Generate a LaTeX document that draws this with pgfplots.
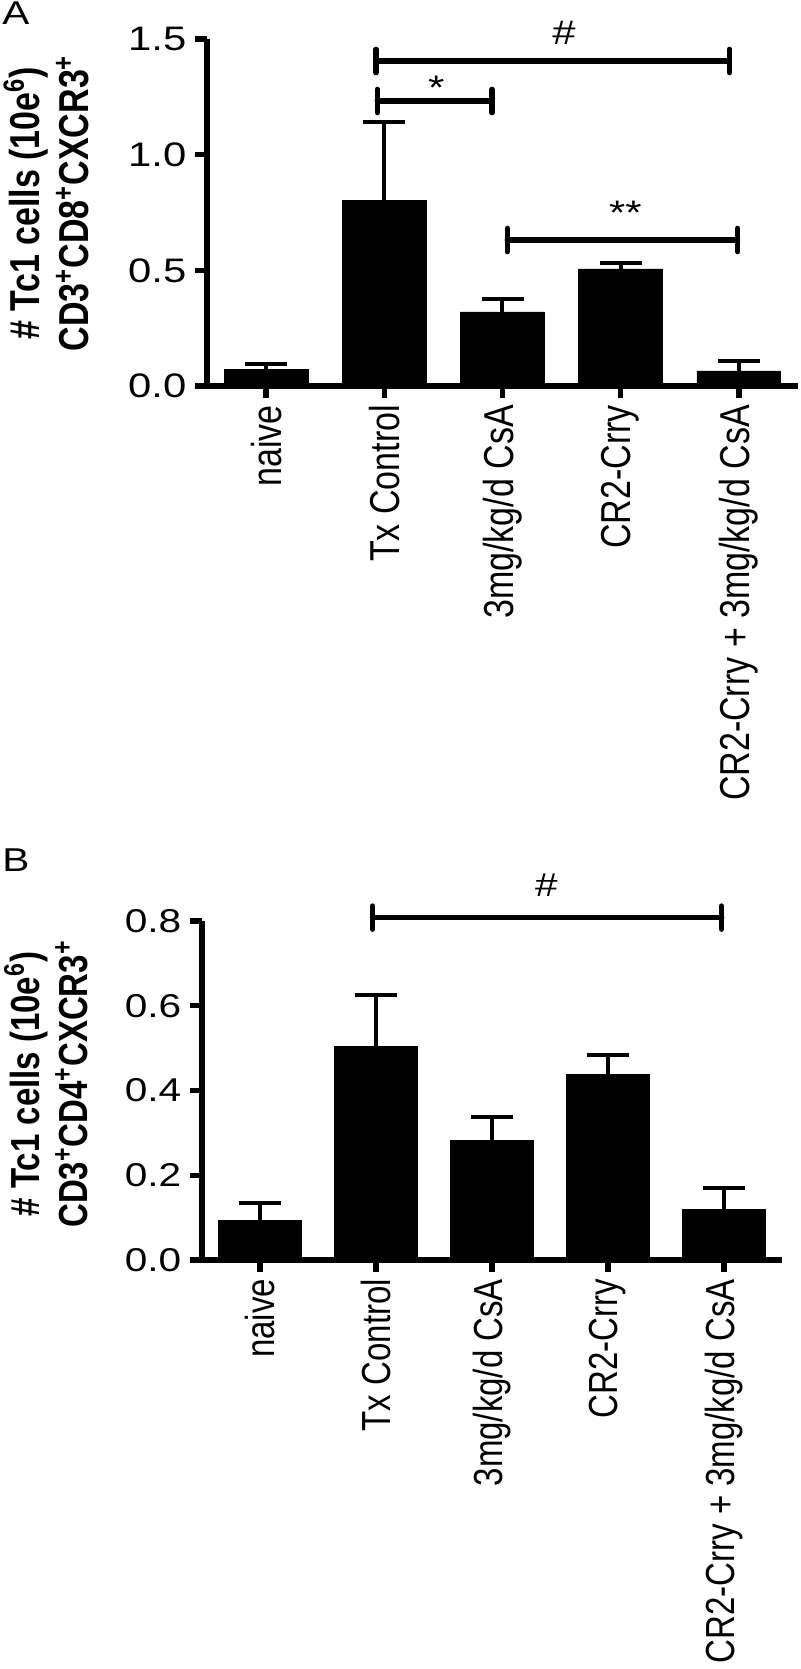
\documentclass[border=0pt]{standalone}
\usepackage{fontspec}
\setmainfont{Liberation Sans}
\usepackage{pgfplots}
\pgfplotsset{compat=1.18}

\newcommand{\labA}{\fontsize{17}{20}\selectfont}
\newcommand{\labB}{\fontsize{16.5}{19.5}\selectfont}

% significance bracket: x1, x2, y, text, text x, text baseline y
\newcommand{\sigbar}[6]{%
  \draw[line width=2.7pt, line cap=round] (axis cs:#1,#3) -- (axis cs:#2,#3);
  \draw[line width=2.7pt, line cap=round] ([yshift=-5.8pt]axis cs:#1,#3) -- ([yshift=5.8pt]axis cs:#1,#3);
  \draw[line width=2.7pt, line cap=round] ([yshift=-5.8pt]axis cs:#2,#3) -- ([yshift=5.8pt]axis cs:#2,#3);
  \node[xscale=1.23, anchor=base, inner sep=0pt] at (axis cs:#5,#6) {#4};
}

\pgfplotsset{
  barfig/.style={
    scale only axis,
    anchor=south west,
    clip=false,
    font=#1,
    axis x line*=bottom,
    axis y line*=left,
    axis line style={line width=2.7pt},
    tick align=outside,
    major tick length=6pt,
    tick style={line width=2.7pt, black},
    xmin=-0.5, xmax=4.5,
    ymin=0,
    xtick={0,...,4},
    xticklabels={naive, Tx Control, 3mg/kg/d CsA, CR2-Crry, CR2-Crry + 3mg/kg/d CsA},
    xticklabel style={font=#1, xscale=1.23, rotate=90, anchor=east},
    yticklabel style={font=#1, xscale=1.23, /pgf/number format/.cd, fixed, fixed zerofill, precision=1},
    /pgf/number format/assume math mode=true,
    ybar, bar width=0.71,
    every axis y label/.style={xscale=1.23, rotate=90, anchor=center, align=center, font=#1\bfseries},
  },
  errs/.style={
    fill=black, draw=black,
    error bars/.cd, y dir=plus, y explicit,
    error bar style={line width=2pt, black},
    error mark options={rotate=90, mark size=10.5pt, line width=2pt, black},
  },
}

\begin{document}
\begin{tikzpicture}
\useasboundingbox (0,0) rectangle (400pt,-834.5pt);

\node[anchor=south west, inner sep=0pt, font=\labB, xscale=1.23] at (1pt,-12.5pt) {A};
\node[anchor=south west, inner sep=0pt, font=\labB, xscale=1.23] at (1pt,-436pt) {B};

% panel A
\begin{axis}[barfig={\labA},
  at={(103.5pt,-193pt)}, width=295.5pt, height=173.5pt,
  ymax=1.5, ytick={0,0.5,1,1.5},
  ylabel={\# Tc1 cells (10e\textsuperscript{6})\\CD3\textsuperscript{+}CD8\textsuperscript{+}CXCR3\textsuperscript{+}},
  ylabel style={at={(axis description cs:-0.272,0.527)}},
]
\addplot[errs] coordinates {
  (0,0.073) +- (0,0.022)
  (1,0.804) +- (0,0.337)
  (2,0.320) +- (0,0.056)
  (3,0.506) +- (0,0.026)
  (4,0.065) +- (0,0.043)
};
\sigbar{0.93}{3.92}{1.405}{\labA\#}{2.52}{1.476}
\sigbar{0.94}{1.91}{1.232}{\labA*}{1.44}{1.24}
\sigbar{2.04}{3.99}{0.631}{\labA**}{3.04}{0.70}
\end{axis}

% panel B
\begin{axis}[barfig={\labB},
  at={(101pt,-630pt)}, width=290pt, height=169.5pt,
  ymax=0.8, ytick={0,0.2,0.4,0.6,0.8},
  ylabel={\# Tc1 cells (10e\textsuperscript{6})\\CD3\textsuperscript{+}CD4\textsuperscript{+}CXCR3\textsuperscript{+}},
  ylabel style={at={(axis description cs:-0.269,0.519)}},
]
\addplot[errs] coordinates {
  (0,0.094) +- (0,0.041)
  (1,0.505) +- (0,0.121)
  (2,0.283) +- (0,0.055)
  (3,0.437) +- (0,0.047)
  (4,0.120) +- (0,0.050)
};
\sigbar{0.97}{3.98}{0.808}{\labB\#}{2.47}{0.858}
\end{axis}
\end{tikzpicture}
\end{document}
